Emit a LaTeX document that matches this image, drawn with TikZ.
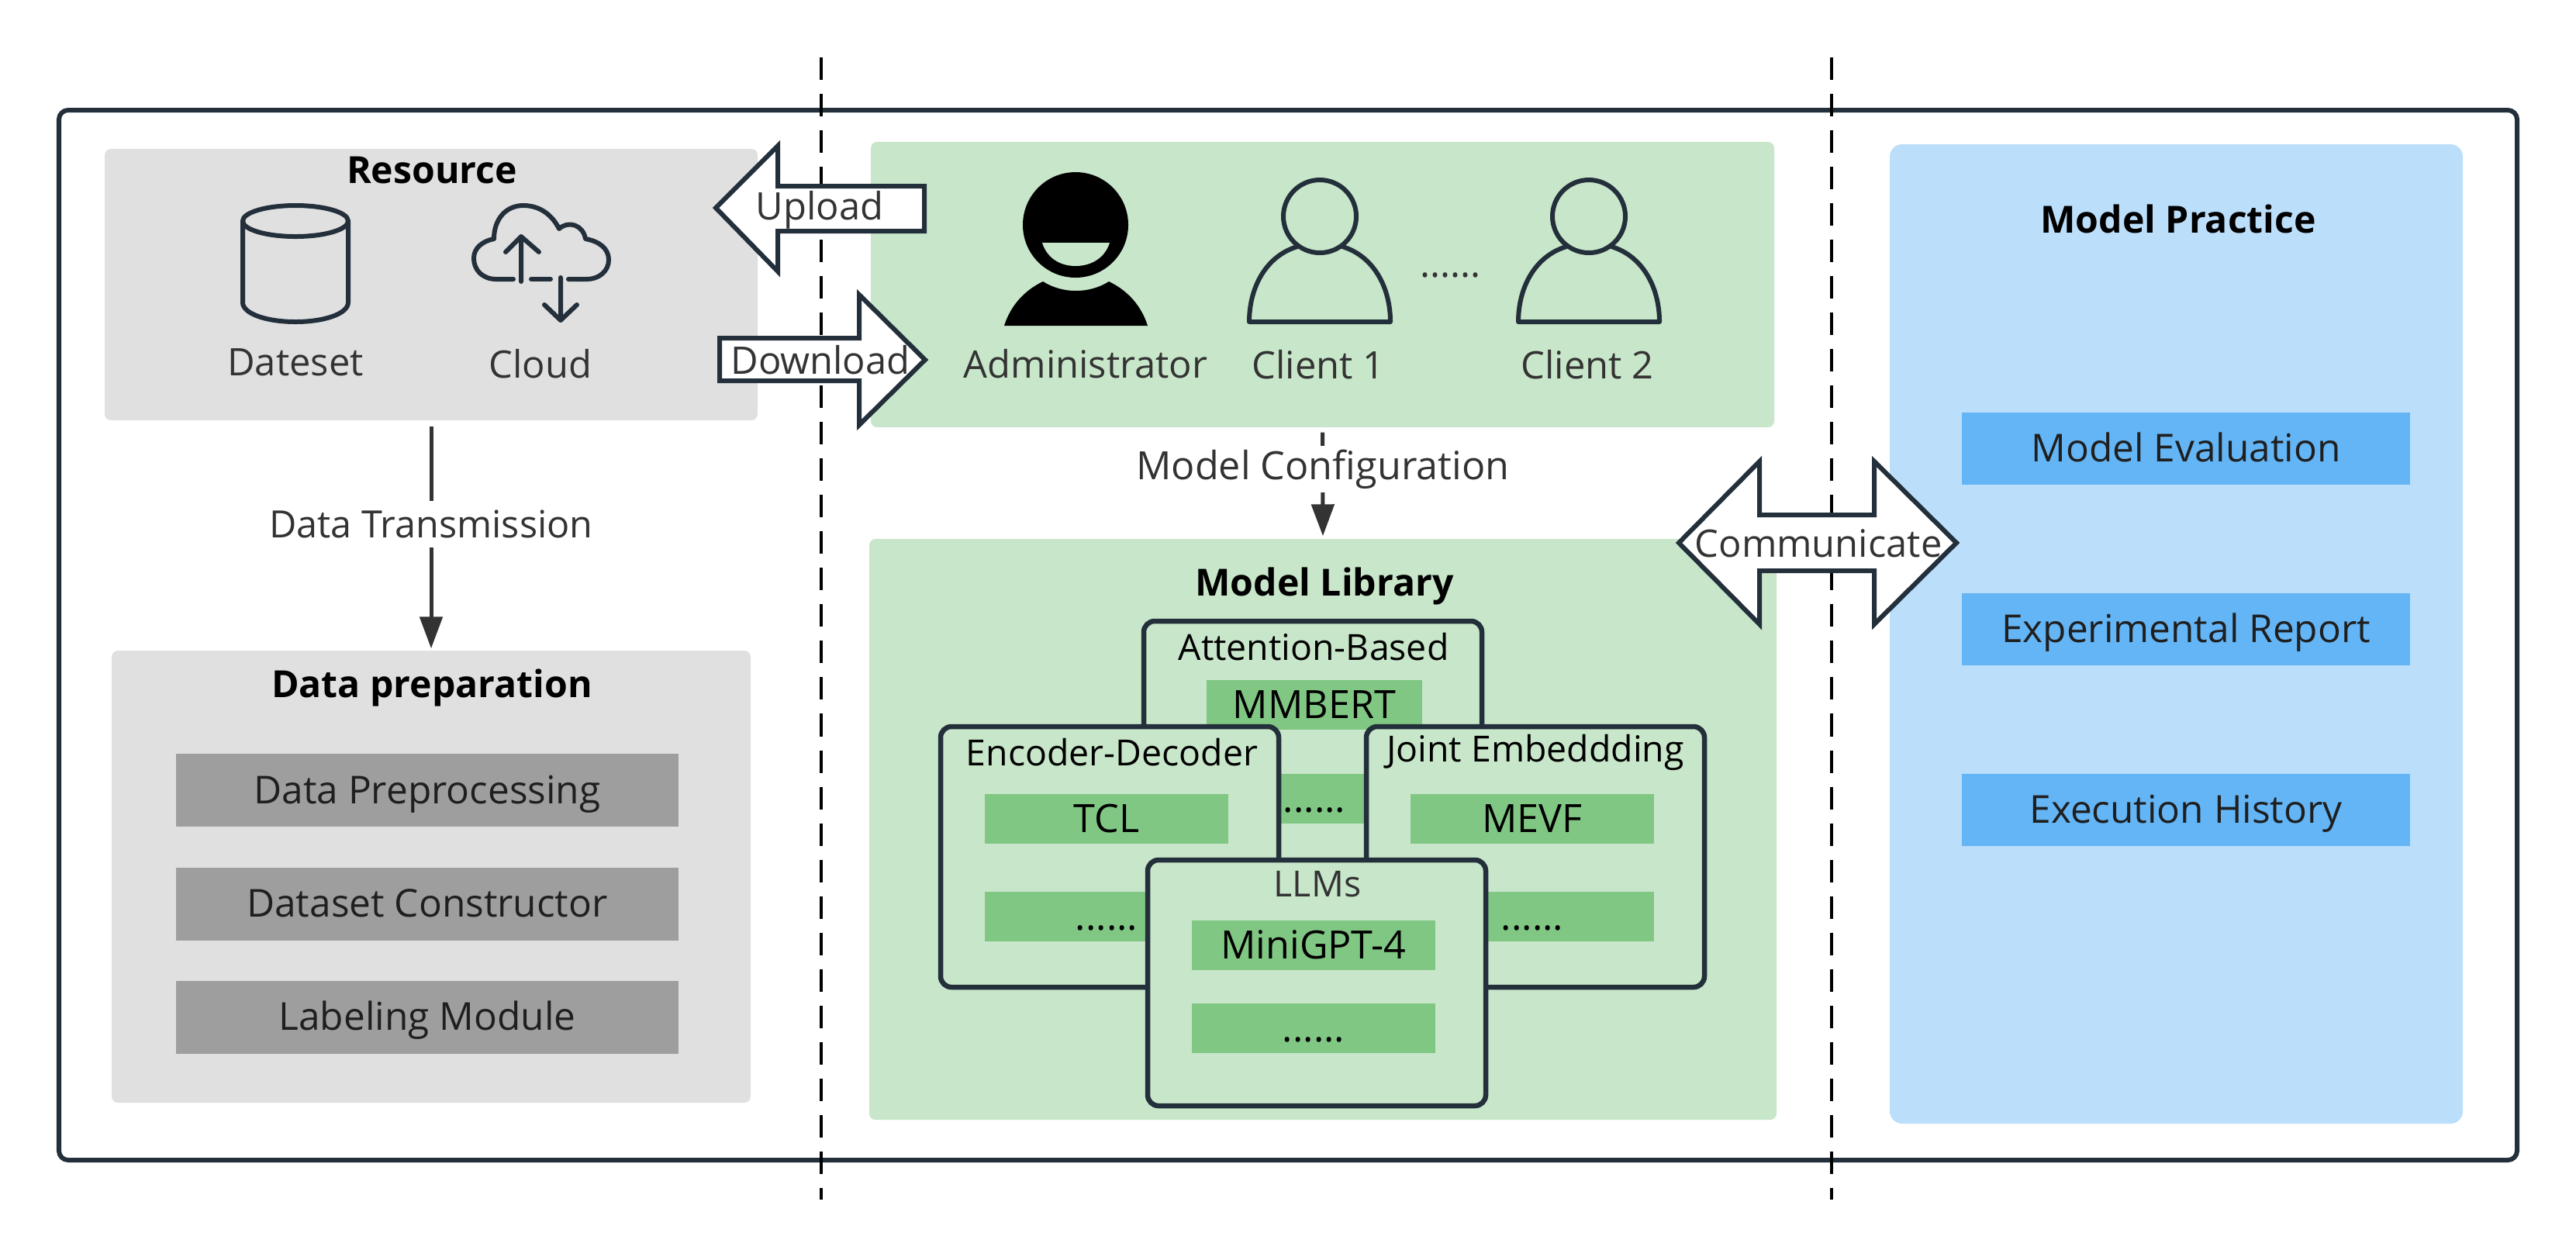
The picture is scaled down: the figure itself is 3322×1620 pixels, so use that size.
\documentclass[tikz,border=0pt]{standalone}
\usepackage{fontspec}
\setmainfont{Open Sans}
\usetikzlibrary{arrows.meta}
\definecolor{inkc}{HTML}{232F3A}
\definecolor{textc}{HTML}{333333}
\definecolor{greyc}{HTML}{E0E0E0}
\definecolor{greybar}{HTML}{9E9E9E}
\definecolor{greenc}{HTML}{C8E6C9}
\definecolor{greenbar}{HTML}{81C784}
\definecolor{bluec}{HTML}{BBDEFB}
\definecolor{bluebar}{HTML}{64B5F6}
\tikzset{
	boxsize/.style 2 args={minimum width=#1*0.01cm,minimum height=#2*0.01cm},
	panel/.style={rectangle,rounded corners=0.08cm,inner sep=0pt},
	modelbox/.style={rectangle,rounded corners=0.14cm,draw=inkc,line width=0.065cm,fill=greenc,inner sep=0pt,boxsize={436}{336}},
	modeltitle/.style={inner sep=0pt,text=black,font=\fontsize{13.2}{16}\selectfont},
	bar/.style={rectangle,inner sep=0pt,text height=0.34cm,text depth=0pt,text=black},
	modelbar/.style={bar,fill=greenbar,font=\fontsize{14.3}{16}\selectfont},
	label/.style={text=textc,inner sep=0pt},
	headline/.style={text=black,inner sep=0pt,font=\fontsize{13.7}{16}\selectfont\bfseries},
	bigarrow/.style={draw=inkc,fill=white,line width=0.06cm,line join=miter},
	icon/.style={draw=inkc,line width=0.06cm,line cap=round,line join=round},
	flow/.style={draw=textc,line width=0.05cm,->},
	flowtext/.style={fill=white,text=textc,inner sep=0pt,minimum height=0.6cm},
}
\begin{document}
\begin{tikzpicture}[x=0.01cm,y=-0.01cm,>={Triangle[length=0.41cm,width=0.29cm]},font=\fontsize{13.9}{16}\selectfont]
	\useasboundingbox (0,0) rectangle (3322,1620);
	\def\xa{1059} \def\xb{2362}
	\node[rectangle,rounded corners=0.12cm,draw=inkc,line width=0.06cm,inner sep=0pt,boxsize={3170}{1354}] (frame) at (1661,819) {};
	\coordinate (ta) at (\xa,74); \coordinate (ba) at (\xa,1547);
	\coordinate (tb) at (\xb,74); \coordinate (bb) at (\xb,1547);
	\draw[black,line width=0.035cm,dash pattern=on 0.29cm off 0.18cm] (ta)--(ba) (tb)--(bb);

	% left column
	\node[panel,fill=greyc,boxsize={842}{350}] (resource) at (556,367) {};
	\node[headline] (resourcetitle) at (557,220) {Resource};
	\draw[icon] (381,285) ellipse (68 and 20);
	\draw[icon] (313,285)--(313,390) .. controls (313,405) and (345,415) .. (381,415) .. controls (417,415) and (449,405) .. (449,390)--(449,285);
	\node[label] (dateset) at (381,467) {Dateset};
	\draw[icon] (662,360)--(640,360) .. controls (622,360) and (611,348) .. (611,333) .. controls (611,320) and (622,311) .. (637,308) .. controls (637,283) and (652,265) .. (675,265) .. controls (696,265) and (712,277) .. (721,295) .. controls (733,284) and (752,290) .. (755,308) .. controls (772,311) and (785,320) .. (785,335) .. controls (785,350) and (772,360) .. (757,360)--(733,360);
	\draw[icon] (685,360)--(710,360);
	\draw[icon] (672,363)--(672,305) (652,325)--(672,305)--(695,325);
	\draw[icon] (723,358)--(723,413) (702,393)--(723,413)--(744,393);
	\node[label] (cloud) at (697,469) {Cloud};

	\node[panel,fill=greyc,boxsize={824}{583}] (prep) at (556,1130.5) {};
	\node[headline] (preptitle) at (557,887) {Data preparation};
	\foreach \nm/\yy/\tx in {prepa/1019/Data Preprocessing,prepb/1165.5/Dataset Constructor,prepc/1311.5/Labeling Module}
		\node[bar,fill=greybar,text=black!88,boxsize={648}{94},font=\fontsize{14.1}{16}\selectfont] (\nm) at (551,\yy) {\tx};
	\draw[flow,shorten <=0.07cm,shorten >=0.02cm] (resource.south)--(prep.north) node[flowtext,pos=0.45,font=\fontsize{13.8}{16}\selectfont] (transmit) {Data Transmission};

	% middle column
	\node[panel,fill=greenc,boxsize={1165}{368}] (users) at (1705.5,367) {};
	\fill[black] (1387,290) circle (68);
	\fill[greenc] (1344,313)--(1431,313) .. controls (1425,332) and (1408,343) .. (1387,343) .. controls (1366,343) and (1350,332) .. (1344,313)--cycle;
	\fill[black] (1295,420) .. controls (1303,395) and (1320,375) .. (1345,363) .. controls (1370,379) and (1405,379) .. (1430,363) .. controls (1455,375) and (1472,395) .. (1480,420)--cycle;
	\node[label] (admin) at (1400,469) {Administrator};
	\foreach \cx/\nm/\tx in {1702/clienta/Client 1,2049/clientb/Client 2}{
		\draw[icon] (\cx,279) circle (47);
		\draw[icon] (\cx-29,318) .. controls (\cx-69,330) and (\cx-91,370) .. (\cx-91,415)--(\cx+91,415) .. controls (\cx+91,370) and (\cx+69,330) .. (\cx+29,318);
		\node[label] (\nm) at (\cx-2,470) {\tx};
	}
	\node[label] (userdots) at (1870,355) {......};
	\node[panel,fill=greenc,boxsize={1170}{749}] (library) at (1706,1069.5) {};
	\node[headline] (librarytitle) at (1708,756) {Model Library};
	\draw[flow,shorten <=0.06cm,shorten >=0.03cm] (users.south)--(library.north) node[flowtext,pos=0.375,font=\fontsize{14.3}{16}\selectfont] (config) {Model Configuration};

	\node[modelbox] (attention) at (1693,969) {};
	\node[modeltitle] (attentiontitle) at (1694,834) {Attention-Based};
	\node[modelbar,boxsize={278}{64}] (mmbert) at (1695,909) {MMBERT};
	\node[modelbar,boxsize={278}{64}] (attentiondots) at (1695,1030) {......};
	\node[modelbox] (encoder) at (1431,1105) {};
	\node[modeltitle] (encodertitle) at (1434,970) {Encoder-Decoder};
	\node[modelbar,boxsize={314}{64}] (tcl) at (1427,1056) {TCL};
	\node[modelbar,boxsize={314}{64}] (encoderdots) at (1427,1182) {......};
	\node[modelbox] (joint) at (1980,1105) {};
	\node[modeltitle] (jointtitle) at (1980,970) {Joint Embeddding};
	\node[modelbar,boxsize={314}{64}] (mevf) at (1976,1056) {MEVF};
	\node[modelbar,boxsize={314}{64}] (jointdots) at (1976,1182) {......};
	\node[modelbox,boxsize={436}{317}] (llms) at (1698,1267.5) {};
	\node[label,font=\fontsize{13.2}{16}\selectfont] (llmstitle) at (1699,1140) {LLMs};
	\node[modelbar,boxsize={314}{64}] (minigpt) at (1694,1219) {MiniGPT-4};
	\node[modelbar,boxsize={314}{64}] (llmsdots) at (1694,1326) {......};

	% right column
	\node[panel,fill=bluec,rounded corners=0.16cm,boxsize={739}{1263}] (practice) at (2806.5,817.5) {};
	\node[headline] (practicetitle) at (2809,282) {Model Practice};
	\foreach \nm/\yy/\tx in {evaluation/578.5/Model Evaluation,report/811.5/Experimental Report,history/1044.5/Execution History}
		\node[bar,fill=bluebar,text=black!88,boxsize={578}{93},font=\fontsize{14.1}{16}\selectfont] (\nm) at (2819,\yy) {\tx};

	% block arrows
	\draw[bigarrow] (923,268)--(1003,188)--(1003,240)--(1192,240)--(1192,298)--(1003,298)--(1003,350)--cycle;
	\node[label] (upload) at (1057,271) {Upload};
	\draw[bigarrow] (928,436)--(1108,436)--(1108,380)--(1193,464)--(1108,548)--(1108,491)--(928,491)--cycle;
	\node[label] (download) at (1058,464) {Download};
	\draw[bigarrow] (2165,700)--(2269,595)--(2269,664)--(2417,664)--(2417,595)--(2523,700)--(2417,805)--(2417,736)--(2269,736)--(2269,805)--cycle;
	\node[label] (communicate) at (2345,701) {Communicate};
\end{tikzpicture}
\end{document}
